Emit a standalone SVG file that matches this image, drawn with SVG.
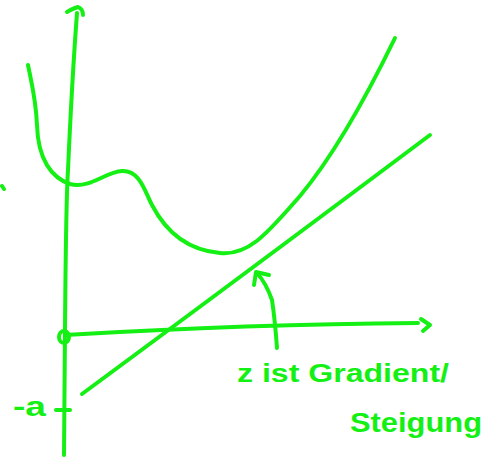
<svg xmlns="http://www.w3.org/2000/svg" width="485" height="457" viewBox="0 0 485 457">
<style>
.s{fill:none;stroke:#14ef14;stroke-width:4;stroke-linecap:round;stroke-linejoin:round}
.t{fill:#14ef14;font-family:"Liberation Sans","DejaVu Sans",sans-serif;font-weight:bold}
</style>
<rect width="485" height="457" fill="#fff"/>
<g id="axes">
<path class="s" d="M64,455 L65,330 Q66,200 68,170 Q72,80 77,13"/>
<path class="s" d="M67,12 Q74,8 78,7 Q83,9 83,15"/>
<path class="s" d="M65,335 Q250,324 418,323"/>
<path class="s" d="M421,319 L430,325 L423,331"/>
<ellipse class="s" cx="64" cy="337" rx="5" ry="6"/>
<path class="s" d="M56,410 L70,410"/>
<path class="s" d="M2,186 L4,189"/>
</g>
<g id="curve">
<path class="s" d="M28,65 C32,85 36,100 37,125 C38,160 52,178 70,184 C90,189 105,172 122,171 C140,170 145,192 152,205 C165,230 185,250 220,253 C250,256 270,230 300,196 C330,160 360,110 395,38"/>
</g>
<g id="tangent">
<path class="s" d="M82,394 Q250,270 430,135"/>
</g>
<g id="connectors">
<path class="s" d="M277,348 Q275,320 272,300 Q266,283 257,273"/>
<path class="s" d="M254,285 L256,272 L269,275"/>
</g>
<g id="labels">
<text class="t" x="13" y="416" font-size="28" textLength="33" lengthAdjust="spacingAndGlyphs">-a</text>
<text class="t" x="237" y="382" font-size="26" textLength="212" lengthAdjust="spacingAndGlyphs">z ist Gradient/</text>
<text class="t" x="350" y="432" font-size="28" textLength="132" lengthAdjust="spacingAndGlyphs">Steigung</text>
</g>
</svg>
